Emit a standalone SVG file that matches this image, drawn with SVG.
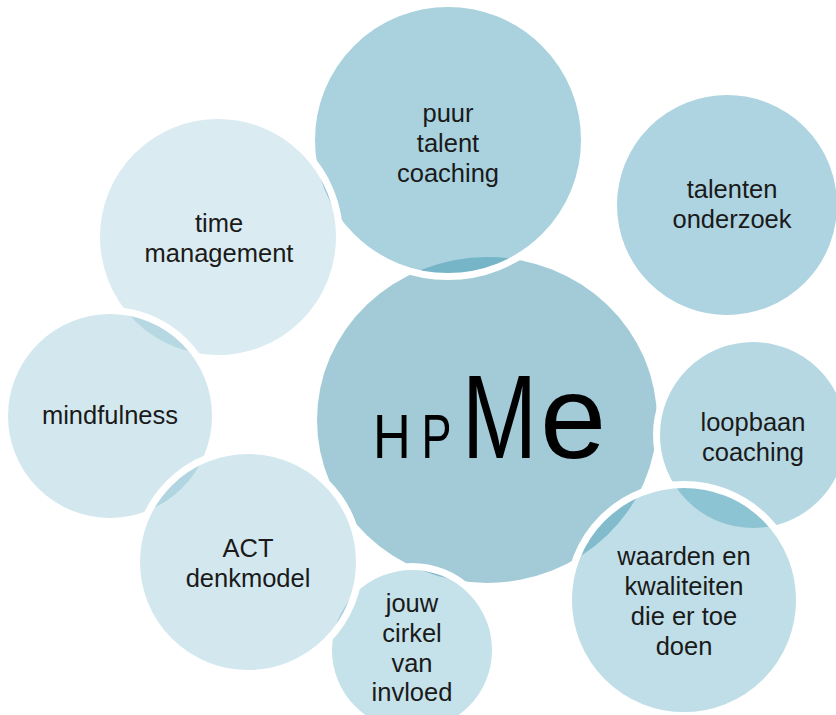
<svg xmlns="http://www.w3.org/2000/svg" width="836" height="715" viewBox="0 0 836 715">
<style>
.bub{fill:#409bb6;stroke:#ffffff;stroke-width:7}
.lbl{font-family:"Liberation Sans",Arial,sans-serif;font-size:25.5px;fill:#1a1a1a;text-anchor:middle}
.big{font-family:"Liberation Sans",Arial,sans-serif;fill:#000000}
</style>
<rect width="836" height="715" fill="#ffffff"/>
<g id="connectors"/>
<g id="hpme">
<ellipse cx="487" cy="420" rx="170" ry="163" fill="#a3cbd7"/>
<text class="big" transform="translate(373,458) scale(0.83,1)" font-size="63">H</text>
<text class="big" transform="translate(421.5,458) scale(0.714,1)" font-size="63">P</text>
<text class="big" transform="translate(462,458) scale(0.757,1)" font-size="119">M</text>
<text class="big" transform="translate(540,458)" font-size="119">e</text>
</g>
<g id="puur-talent-coaching">
<circle class="bub" cx="448" cy="140" r="136.5" fill-opacity="0.45"/>
<text class="lbl" x="448" y="122">puur</text>
<text class="lbl" x="448" y="152">talent</text>
<text class="lbl" x="448" y="182">coaching</text>
</g>
<g id="talenten-onderzoek">
<circle class="bub" cx="727" cy="205" r="113.5" fill-opacity="0.43"/>
<text class="lbl" x="732" y="198">talenten</text>
<text class="lbl" x="732" y="228">onderzoek</text>
</g>
<g id="loopbaan-coaching">
<circle class="bub" cx="753" cy="435" r="96.5" fill-opacity="0.39"/>
<text class="lbl" x="753" y="431">loopbaan</text>
<text class="lbl" x="753" y="461">coaching</text>
</g>
<g id="waarden-kwaliteiten">
<circle class="bub" cx="684" cy="600" r="115.5" fill-opacity="0.335"/>
<text class="lbl" x="684" y="565">waarden en</text>
<text class="lbl" x="684" y="595">kwaliteiten</text>
<text class="lbl" x="684" y="625">die er toe</text>
<text class="lbl" x="684" y="655">doen</text>
</g>
<g id="jouw-cirkel-van-invloed">
<circle class="bub" cx="412" cy="650" r="83.5" fill-opacity="0.30"/>
<text class="lbl" x="412" y="612">jouw</text>
<text class="lbl" x="412" y="642">cirkel</text>
<text class="lbl" x="412" y="672">van</text>
<text class="lbl" x="412" y="701">invloed</text>
</g>
<g id="time-management">
<circle class="bub" cx="218" cy="237" r="121.5" fill-opacity="0.195"/>
<text class="lbl" x="219" y="232">time</text>
<text class="lbl" x="219" y="262">management</text>
</g>
<g id="mindfulness">
<circle class="bub" cx="110" cy="416" r="105.5" fill-opacity="0.23"/>
<text class="lbl" x="110" y="424">mindfulness</text>
</g>
<g id="act-denkmodel">
<circle class="bub" cx="248" cy="562" r="111.5" fill-opacity="0.23"/>
<text class="lbl" x="248" y="557">ACT</text>
<text class="lbl" x="248" y="587">denkmodel</text>
</g>
</svg>
